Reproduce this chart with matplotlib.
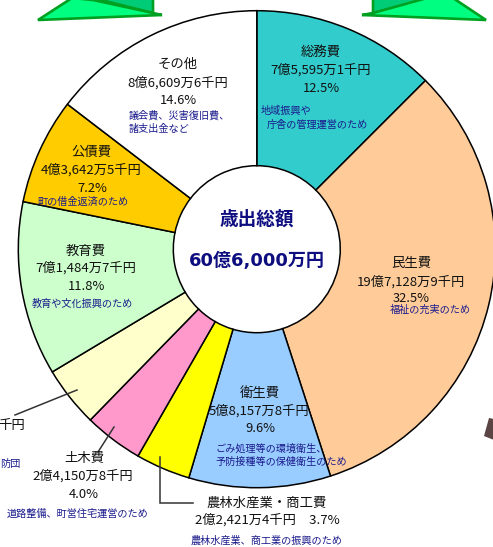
import matplotlib
matplotlib.use("Agg")
import matplotlib.pyplot as plt
from matplotlib.patches import Polygon

plt.rcParams['font.family'] = ['Noto Sans CJK JP', 'DejaVu Sans']

W, H = 493, 547

# Data: clockwise from the top (the 消防費 slice label is cropped in the source)
categories = ['総務費', '民生費', '衛生費', '農林水産業・商工費', '土木費', '消防費', '教育費', '公債費', 'その他']
shares = [12.5, 32.5, 9.6, 3.7, 4.0, 4.1, 11.8, 7.2, 14.6]
colors = ['#33CCCC', '#FFCC99', '#99CCFF', '#FFFF00', '#FF99CC', '#FFFFCC', '#CCFFCC', '#FFCC00', '#FFFFFF']

title_lines = ['歳出総額', '60億6,000万円']

names = ['総務費', '民生費', '衛生費', '農林水産業・商工費', '土木費', '教育費', '公債費', 'その他']
amounts = ['7億5,595万1千円', '19億7,128万9千円', '5億8,157万8千円', '2億2,421万4千円　3.7%',
           '2億4,150万8千円', '7億1,484万7千円', '4億3,642万5千円', '8億6,609万6千円']
percents = ['12.5%', '32.5%', '9.6%', '', '4.0%', '11.8%', '7.2%', '14.6%']
name_xy = [(321, 52), (411, 263), (260, 393), (267, 503), (84, 458), (86, 251), (91, 152), (178, 64)]
amount_xy = [(321, 70), (411, 282), (259, 411), (267, 520), (83, 476), (86, 268), (91, 170), (178, 83)]
percent_xy = [(321, 88), (411, 299), (260, 429), (0, 0), (84, 494), (87, 287), (92, 188), (178, 100)]

notes = ['地域振興や', '庁舎の管理運営のため', '福祉の充実のため', 'ごみ処理等の環境衛生、', '予防接種等の保健衛生のため',
         '農林水産業、商工業の振興のため', '道路整備、町営住宅運営のため', '教育や文化振興のため', '町の借金返済のため',
         '議会費、災害復旧費、', '諸支出金など', '防団']
note_xy = [(261, 111, 'left'), (267, 125, 'left'), (430, 310, 'center'), (215, 449, 'left'), (215, 462, 'left'),
           (267, 541, 'center'), (78, 514, 'center'), (82, 304, 'center'), (83, 202, 'center'),
           (129, 116, 'left'), (129, 129, 'left'), (0, 464, 'left')]

fig = plt.figure(figsize=(W / 100, H / 100), dpi=100, facecolor='white')
ax = fig.add_axes([0, 0, 1, 1])


def Y(py):
    return H - py


cx, cy, R, r = 256.8, 249.2, 238.5, 83.5
ax.pie(shares, colors=colors, center=(cx, Y(cy)), radius=R, startangle=90, counterclock=False,
       frame=True, wedgeprops=dict(width=R - r, edgecolor='black', linewidth=1.1))
ax.set_xlim(0, W)
ax.set_ylim(0, H)
ax.set_aspect('auto')
ax.axis('off')


def T(x, y, s, size=9.3, color='#111111', ha='center', **kw):
    ax.text(x, Y(y), s, fontsize=size, color=color, ha=ha, va='center', zorder=6, **kw)


for s, xy in zip(names, name_xy):
    T(xy[0], xy[1], s, size=9.6)
for s, xy in zip(amounts, amount_xy):
    T(xy[0], xy[1], s, size=9.5)
for s, xy in zip(percents, percent_xy):
    if s:
        T(xy[0], xy[1], s, size=9.3)
T(12, 425, '千円', size=9.6)
for s, (x, y, ha) in zip(notes, note_xy):
    T(x, y, s, size=7.3, color='#1a1a8c', ha=ha)

T(257, 219, title_lines[0], size=13.4, color='#0d0d80', fontweight='bold')
T(257, 261, title_lines[1], size=13.0, color='#0d0d80', fontweight='bold',
  family=['DejaVu Sans', 'Noto Sans CJK JP'])

# Leader lines
for pts in ([(15, 415), (77, 390)], [(114, 427), (98, 452)], [(160, 457), (160, 503), (193, 503)]):
    ax.plot([p[0] for p in pts], [Y(p[1]) for p in pts], color='#333333', lw=1.1, zorder=5,
            solid_joinstyle='miter')

# Decorative green triangles at the top edge and the small brown ornament at right
deco_dark = '#00A020'
for poly, fill in (
    ([(93, -2), (153, 13), (153, -2)], '#00CC77'),
    ([(38, 20), (72, -2), (93, 0), (153, 13), (162, 15)], '#00FF80'),
    ([(373, -2), (373, 13), (433, -2)], '#00CC77'),
    ([(362, 15), (373, 13), (427, -2), (453, -2), (486, 20)], '#00FF80'),
):
    ax.add_patch(Polygon([(x, Y(y)) for x, y in poly], closed=True, facecolor=fill,
                         edgecolor=deco_dark, linewidth=1.9, zorder=4))
ax.add_patch(Polygon([(x, Y(y)) for x, y in [(489, 418), (494, 419), (494, 440), (484, 436)]],
                     closed=True, facecolor='#5a4444', edgecolor='none', zorder=4))

fig.savefig('out.png', dpi=100, facecolor='white')
